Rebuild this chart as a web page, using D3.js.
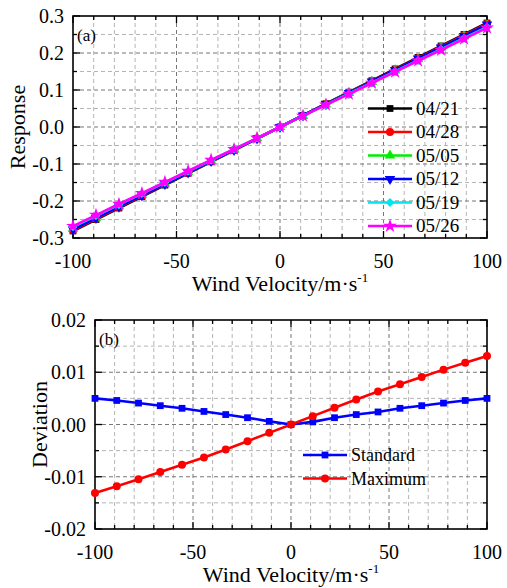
<!DOCTYPE html>
<html lang="en">
<head>
<meta charset="utf-8">
<title>Response and Deviation</title>
<script src="https://cdn.jsdelivr.net/npm/d3@7"></script>
<style>
  body { margin: 0; background: #fff; }
  svg text { font-family: "Liberation Serif", "Times New Roman", serif; fill: #000; }
</style>
</head>
<body>
<script>
// wind velocity sample points (19 of them, -100..100)
var velocity = [-100, -88.9, -77.8, -66.7, -55.6, -44.4, -33.3, -22.2, -11.1, 0,
                11.1, 22.2, 33.3, 44.4, 55.6, 66.7, 77.8, 88.9, 100];

var dates = ["04/21", "04/28", "05/05", "05/12", "05/19", "05/26"];

var resp0421 = [-0.281, -0.250, -0.219, -0.188, -0.157, -0.125, -0.094, -0.063, -0.031, 0.000,
                0.031, 0.063, 0.094, 0.125, 0.157, 0.188, 0.219, 0.250, 0.281];
var resp0428 = [-0.279, -0.248, -0.217, -0.186, -0.155, -0.124, -0.093, -0.062, -0.031, 0.000,
                0.031, 0.062, 0.093, 0.124, 0.155, 0.186, 0.217, 0.248, 0.279];
var resp0505 = [-0.275, -0.245, -0.214, -0.183, -0.153, -0.122, -0.092, -0.061, -0.030, 0.000,
                0.030, 0.061, 0.092, 0.122, 0.153, 0.183, 0.214, 0.245, 0.275];
var resp0512 = [-0.277, -0.246, -0.215, -0.185, -0.154, -0.123, -0.092, -0.062, -0.031, 0.000,
                0.031, 0.062, 0.092, 0.123, 0.154, 0.185, 0.215, 0.246, 0.277];
var resp0519 = [-0.270, -0.240, -0.210, -0.180, -0.150, -0.120, -0.090, -0.060, -0.030, 0.000,
                0.030, 0.060, 0.090, 0.120, 0.150, 0.180, 0.210, 0.240, 0.270];
var resp0526 = [-0.268, -0.238, -0.208, -0.179, -0.149, -0.119, -0.089, -0.060, -0.030, 0.000,
                0.030, 0.060, 0.089, 0.119, 0.149, 0.179, 0.208, 0.238, 0.268];

var devNames = ["Standard", "Maximum"];
var devStandard = [0.0050, 0.0046, 0.0041, 0.0036, 0.0031, 0.0025, 0.0019, 0.0013, 0.0006, 0.0000,
                   0.0005, 0.0013, 0.0019, 0.0024, 0.0031, 0.0036, 0.0041, 0.0046, 0.0050];
var devMaximum = [-0.0131, -0.0118, -0.0105, -0.0091, -0.0077, -0.0063, -0.0048, -0.0032, -0.0016, 0.0000,
                  0.0016, 0.0032, 0.0048, 0.0063, 0.0077, 0.0091, 0.0105, 0.0118, 0.0131];

var xTicks = [-100, -50, 0, 50, 100];
var respTicks = [-0.3, -0.2, -0.1, 0.0, 0.1, 0.2, 0.3];
var devTicks = [-0.02, -0.01, 0.00, 0.01, 0.02];

var w = 507, h = 588;
var svg = d3.select("body").append("svg").attr("width", w).attr("height", h);

// marker shapes, Origin style
function marker(g, kind, color) {
  var s;
  if (kind == "square") s = g.append("path").attr("d", d3.symbol(d3.symbolSquare, 46)());
  else if (kind == "circle") s = g.append("path").attr("d", d3.symbol(d3.symbolCircle, 50)());
  else if (kind == "up") s = g.append("path").attr("d", d3.symbol(d3.symbolTriangle, 48)());
  else if (kind == "down") s = g.append("path").attr("d", d3.symbol(d3.symbolTriangle, 48)()).attr("transform", "rotate(180)");
  else if (kind == "diamond") s = g.append("path").attr("d", d3.symbol(d3.symbolSquare, 40)()).attr("transform", "rotate(45)");
  else s = g.append("path").attr("d", d3.symbol(d3.symbolStar, 60)());
  s.attr("fill", color);
}

// plain hyphen for negatives, like the original figure
function hy(str) { return String(str).replace("\u2212", "-"); }

function panel(box, yDomain, yMajor, yMinorStep, xLabel, yLabel, tag, tickFmt) {
  var x = d3.scaleLinear().domain([-100, 100]).range([box.l, box.r]);
  var y = d3.scaleLinear().domain(yDomain).range([box.b, box.t]);
  var g = svg.append("g");

  var xMinor = d3.range(-100, 100.1, 200 / 20);
  var yMinor = d3.range(yDomain[0], yDomain[1] + yMinorStep / 2, yMinorStep);

  // grid
  g.selectAll(".vg").data(xMinor.slice(1, -1)).enter().append("line")
    .attr("x1", d => x(d)).attr("x2", d => x(d))
    .attr("y1", box.t).attr("y2", box.b)
    .attr("stroke", d => (Math.abs(d % 50) < 1e-6 ? "#777" : "#b4b4b4"))
    .attr("stroke-width", 1).attr("stroke-dasharray", "4,3");
  g.selectAll(".hg").data(yMinor.slice(1, -1)).enter().append("line")
    .attr("x1", box.l).attr("x2", box.r)
    .attr("y1", d => y(d)).attr("y2", d => y(d))
    .attr("stroke", (d, i) => (i % 2 == 1 ? "#777" : "#b4b4b4"))
    .attr("stroke-width", 1).attr("stroke-dasharray", "4,3");

  // inward ticks on all four sides
  var tk = g.append("g").attr("stroke", "#000").attr("stroke-width", 1.3);
  xMinor.forEach(function(d) {
    var len = Math.abs(d % 50) < 1e-6 ? 7 : 4;
    tk.append("line").attr("x1", x(d)).attr("x2", x(d)).attr("y1", box.b).attr("y2", box.b - len);
    tk.append("line").attr("x1", x(d)).attr("x2", x(d)).attr("y1", box.t).attr("y2", box.t + len);
  });
  yMinor.forEach(function(d, i) {
    var len = i % 2 == 0 ? 7 : 4;
    tk.append("line").attr("y1", y(d)).attr("y2", y(d)).attr("x1", box.l).attr("x2", box.l + len);
    tk.append("line").attr("y1", y(d)).attr("y2", y(d)).attr("x1", box.r).attr("x2", box.r - len);
  });

  g.append("rect").attr("x", box.l).attr("y", box.t)
    .attr("width", box.r - box.l).attr("height", box.b - box.t)
    .attr("fill", "none").attr("stroke", "#000").attr("stroke-width", 1.6);

  // tick labels
  g.selectAll(".xl").data(xTicks).enter().append("text")
    .attr("x", d => x(d)).attr("y", box.b + 30)
    .attr("text-anchor", "middle").attr("font-size", 20)
    .text(d => hy(d));
  g.selectAll(".yl").data(yMajor).enter().append("text")
    .attr("x", box.l - 9).attr("y", d => y(d) + 7)
    .attr("text-anchor", "end").attr("font-size", 20)
    .text(d => hy(tickFmt(d)));

  var xt = g.append("text").attr("x", (box.l + box.r) / 2).attr("y", box.b + 53)
    .attr("text-anchor", "middle").attr("font-size", 22);
  xt.append("tspan").text(xLabel);
  xt.append("tspan").attr("dy", -9).attr("font-size", 13).text("-1");

  g.append("text")
    .attr("transform", "translate(" + (box.l - 48) + "," + ((box.t + box.b) / 2) + ") rotate(-90)")
    .attr("text-anchor", "middle").attr("font-size", 22)
    .text(yLabel);

  g.append("text").attr("x", box.l + 4).attr("y", box.t + 25)
    .attr("font-size", 17).text(tag);

  return { x: x, y: y, g: g };
}

function drawSeries(p, values, color, kind) {
  var pts = velocity.map((v, i) => [v, values[i]]);
  var line = d3.line().x(d => p.x(d[0])).y(d => p.y(d[1]));
  p.g.append("path").datum(pts).attr("d", line)
    .attr("fill", "none").attr("stroke", color).attr("stroke-width", 2.6);
  pts.forEach(function(d) {
    var m = p.g.append("g").attr("transform", "translate(" + p.x(d[0]) + "," + p.y(d[1]) + ")");
    marker(m, kind, color);
  });
}

function legendRow(p, lx, ly, label, color, kind, fs) {
  var g = p.g.append("g");
  g.append("line").attr("x1", lx).attr("x2", lx + 44).attr("y1", ly).attr("y2", ly)
    .attr("stroke", color).attr("stroke-width", 2.6);
  var m = g.append("g").attr("transform", "translate(" + (lx + 22) + "," + ly + ")");
  marker(m, kind, color);
  g.append("text").attr("x", lx + 48).attr("y", ly + 6).attr("font-size", fs).text(label);
}

// ---- panel (a)
var pa = panel({ l: 73, r: 487, t: 16, b: 238 }, [-0.3, 0.3], respTicks, 0.05,
  "Wind Velocity/m\u00b7s", "Response", "(a)", d => d3.format(".1f")(d));

var respSeries = [resp0421, resp0428, resp0505, resp0512, resp0519, resp0526];
var respColors = ["#000000", "#ff0000", "#00ee00", "#0000ff", "#00e5ee", "#ff00ff"];
var respMarks = ["square", "circle", "up", "down", "diamond", "star"];
respSeries.forEach((s, i) => drawSeries(pa, s, respColors[i], respMarks[i]));
dates.forEach((d, i) => legendRow(pa, 368, 108.5 + i * 23.5, d, respColors[i], respMarks[i], 19));

// ---- panel (b)
var pb = panel({ l: 95, r: 487, t: 320, b: 529 }, [-0.02, 0.02], devTicks, 0.005,
  "Wind Velocity/m\u00b7s", "Deviation", "(b)", d => d3.format(".2f")(d));

var devSeries = [devStandard, devMaximum];
var devColors = ["#0000ff", "#ff0000"];
var devMarks = ["square", "circle"];
devSeries.forEach((s, i) => drawSeries(pb, s, devColors[i], devMarks[i]));
devNames.forEach((d, i) => legendRow(pb, 303, 455 + i * 23.5, d, devColors[i], devMarks[i], 18));
</script>
</body>
</html>
